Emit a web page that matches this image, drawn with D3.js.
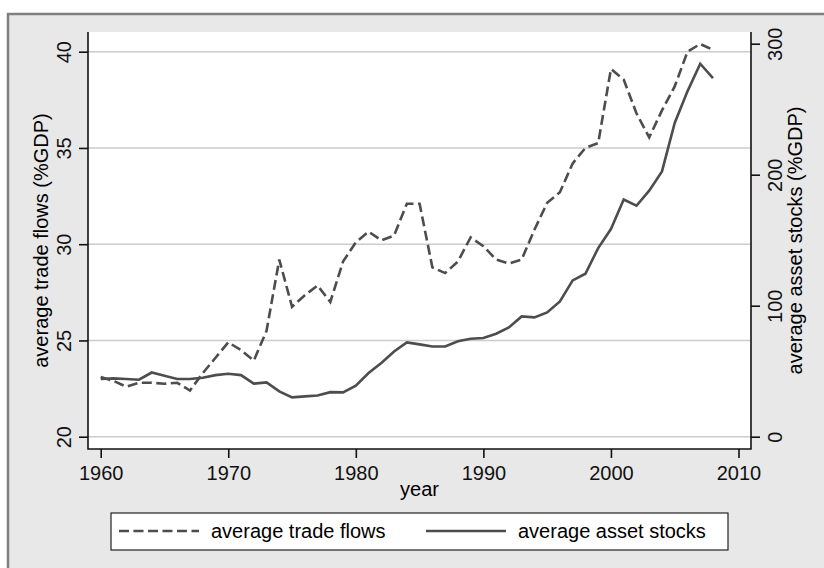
<!DOCTYPE html>
<html>
<head>
<meta charset="utf-8">
<script src="https://cdn.jsdelivr.net/npm/d3@7"></script>
<style>
  body { margin: 0; background: #fff; }
  svg { display: block; font-family: Arial, "Liberation Sans", sans-serif; }
</style>
</head>
<body>
<div id="chart"></div>
<script>
// years on the x axis
const years = d3.range(1960, 2009);

// average trade flows (%GDP), left axis
const tradeFlows = [
  23.1, 22.9, 22.6, 22.8, 22.8, 22.75, 22.8, 22.4, 23.3, 24.1,
  24.9, 24.5, 23.95, 25.5, 29.2, 26.75, 27.35, 27.85, 27.0, 29.1,
  30.1, 30.65, 30.2, 30.45, 32.1, 32.1, 28.8, 28.5, 29.1, 30.35,
  29.9, 29.2, 29.0, 29.2, 30.75, 32.15, 32.7, 34.2, 35.0, 35.25,
  39.1, 38.55, 36.8, 35.55, 36.95, 38.2, 40.0, 40.4, 40.1
];

// average asset stocks (%GDP), right axis
const assetStocks = [
  44, 44.5, 44, 43.5, 49, 46.6, 44, 44, 45, 47,
  48, 47, 40.5, 41.5, 34.6, 30, 30.8, 31.5, 34, 33.8,
  38.9, 48.6, 56.2, 65, 72, 70.5, 68.9, 68.9, 72.8, 74.8,
  75.3, 78.6, 83.4, 91.8, 91.1, 94.9, 103.3, 119.3, 124.4, 144,
  158.5, 181, 176.3, 187.8, 202.5, 239.5, 263.6, 284.7, 273.8
];

// tick labels
const xTicks = [1960, 1970, 1980, 1990, 2000, 2010];
const leftTicks = [20, 25, 30, 35, 40];
const rightTicks = [0, 100, 200, 300];

const width = 824, height = 568;
const plot = { left: 88, right: 751, top: 32, bottom: 449 };
const lineColor = '#4d4d4d';

const svg = d3.select('#chart').append('svg')
  .attr('width', width)
  .attr('height', height);

// outer gray frame (runs off the right and bottom edge)
svg.append('rect')
  .attr('x', 7).attr('y', 13)
  .attr('width', width).attr('height', height)
  .attr('fill', '#e8e8e8');
svg.append('path')
  .attr('d', `M8,${height} V14 H${width}`)
  .attr('fill', 'none')
  .attr('stroke', '#7f7f7f')
  .attr('stroke-width', 2.5);

// plot region
svg.append('rect')
  .attr('x', plot.left).attr('y', plot.top)
  .attr('width', plot.right - plot.left)
  .attr('height', plot.bottom - plot.top)
  .attr('fill', '#fff');

// scales
const x = d3.scaleLinear().domain([1960, 2010]).range([100.7, 738.5]);
const yLeft = d3.scaleLinear().domain([20, 40]).range([436.7, 51.7]);
const yRight = d3.scaleLinear().domain([0, 300]).range([436.7, 43.7]);

// gridlines at the left axis ticks
svg.append('g')
  .selectAll('line')
  .data(leftTicks)
  .enter()
  .append('line')
  .attr('x1', plot.left).attr('x2', plot.right)
  .attr('y1', d => yLeft(d)).attr('y2', d => yLeft(d))
  .attr('stroke', '#cccccc')
  .attr('stroke-width', 1.4);

// the two series
const tradeLine = d3.line()
  .x((d, i) => x(years[i]))
  .y(d => yLeft(d));
const assetLine = d3.line()
  .x((d, i) => x(years[i]))
  .y(d => yRight(d));

svg.append('path')
  .datum(tradeFlows)
  .attr('d', tradeLine)
  .attr('fill', 'none')
  .attr('stroke', lineColor)
  .attr('stroke-width', 2.6)
  .attr('stroke-dasharray', '10,4.5');

svg.append('path')
  .datum(assetStocks)
  .attr('d', assetLine)
  .attr('fill', 'none')
  .attr('stroke', lineColor)
  .attr('stroke-width', 2.6);

// axes
const leftAxis = svg.append('g')
  .attr('transform', `translate(${plot.left},0)`)
  .call(d3.axisLeft(yLeft).tickValues(leftTicks).tickSize(9).tickSizeOuter(0));
const rightAxis = svg.append('g')
  .attr('transform', `translate(${plot.right},0)`)
  .call(d3.axisRight(yRight).tickValues(rightTicks).tickSize(9).tickSizeOuter(0));
const bottomAxis = svg.append('g')
  .attr('transform', `translate(0,${plot.bottom})`)
  .call(d3.axisBottom(x).tickValues(xTicks).tickFormat(d3.format('d')).tickSize(9).tickSizeOuter(0));

[leftAxis, rightAxis, bottomAxis].forEach(ax => {
  ax.select('.domain').remove();
  ax.selectAll('line').attr('stroke', '#111').attr('stroke-width', 1.6);
  ax.selectAll('text')
    .attr('fill', '#111')
    .style('font-size', '20px')
    .style('font-family', 'Arial, "Liberation Sans", sans-serif');
});

// rotate y tick labels like Stata does
leftAxis.selectAll('text')
  .attr('x', null).attr('dy', null)
  .attr('text-anchor', 'middle')
  .attr('transform', 'translate(-17,0) rotate(-90)');
rightAxis.selectAll('text')
  .attr('x', null).attr('dy', null)
  .attr('text-anchor', 'middle')
  .attr('transform', 'translate(31,0) rotate(-90)');
bottomAxis.selectAll('text')
  .attr('y', 31).attr('dy', null);

// axis lines drawn over the plot edges
svg.append('path')
  .attr('d', `M${plot.left},${plot.top} V${plot.bottom} H${plot.right} V${plot.top}`)
  .attr('fill', 'none')
  .attr('stroke', '#111')
  .attr('stroke-width', 1.6);

// axis titles
svg.append('text')
  .attr('transform', `translate(48,${(plot.top + plot.bottom) / 2}) rotate(-90)`)
  .attr('text-anchor', 'middle')
  .style('font-size', '20px')
  .text('average trade flows (%GDP)');
svg.append('text')
  .attr('transform', `translate(802,${(plot.top + plot.bottom) / 2}) rotate(-90)`)
  .attr('text-anchor', 'middle')
  .style('font-size', '20px')
  .text('average asset stocks (%GDP)');
svg.append('text')
  .attr('x', (plot.left + plot.right) / 2)
  .attr('y', 496)
  .attr('text-anchor', 'middle')
  .style('font-size', '20px')
  .text('year');

// legend
const legend = svg.append('g');
legend.append('rect')
  .attr('x', 111).attr('y', 513)
  .attr('width', 617).attr('height', 37)
  .attr('fill', '#fff')
  .attr('stroke', '#222')
  .attr('stroke-width', 1.2);

const legendItems = [
  { label: 'average trade flows', dash: '10,4.5', x0: 119, tx: 211 },
  { label: 'average asset stocks', dash: null, x0: 426, tx: 518 }
];
legendItems.forEach(item => {
  legend.append('line')
    .attr('x1', item.x0).attr('x2', item.x0 + 80)
    .attr('y1', 531).attr('y2', 531)
    .attr('stroke', lineColor)
    .attr('stroke-width', 2.6)
    .attr('stroke-dasharray', item.dash);
  legend.append('text')
    .attr('x', item.tx).attr('y', 538)
    .style('font-size', '20px')
    .text(item.label);
});
</script>
</body>
</html>
